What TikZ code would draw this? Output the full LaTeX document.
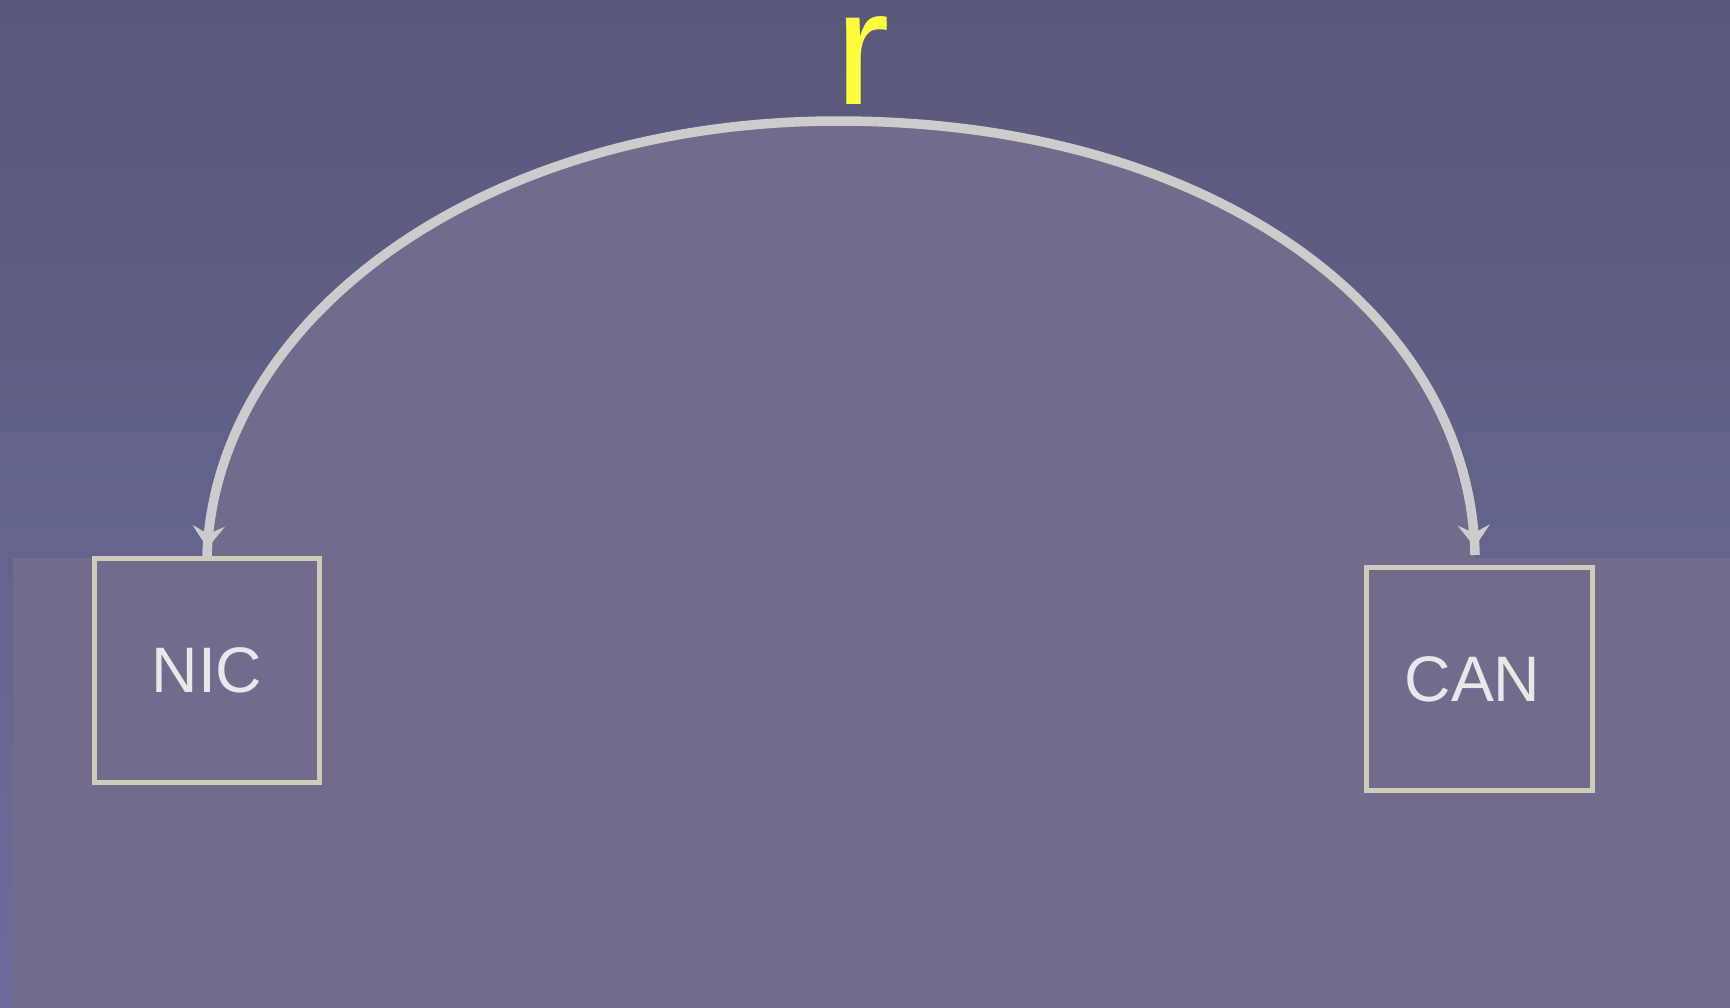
\documentclass[tikz,border=0pt]{standalone}
\usepackage{fontspec}
\setmainfont{Liberation Sans}
\usetikzlibrary{arrows.meta,decorations.markings,calc}
\definecolor{skytop}{RGB}{88,88,122}
\definecolor{skybot}{RGB}{108,109,156}
\definecolor{hall}{RGB}{115,107,139}
\definecolor{boxline}{RGB}{205,203,185}
\definecolor{arcline}{RGB}{204,204,204}
\definecolor{boxtext}{RGB}{232,232,232}
\definecolor{rtext}{RGB}{255,255,64}
\begin{document}
\begin{tikzpicture}[
    >={Stealth[length=0.22cm,width=0.32cm,inset=0.08cm]},
    unitbox/.style={draw=boxline,line width=0.05cm,inner sep=0pt,
      minimum width=2.25cm,minimum height=2.24cm,text=boxtext,
      font=\fontsize{18.3}{22}\selectfont},
    link/.style={draw=arcline,line width=0.095cm,postaction={decorate},
      decoration={markings,
        mark=at position 0.08cm with {\arrowreversed[arcline]{>}},
        mark=at position -0.08cm with {\arrow[arcline]{>}}}}]
  \useasboundingbox (0,0) rectangle (17.30,-10.07);
  \shade[top color=skytop,bottom color=skybot] (0,0) rectangle (17.30,-10.07);
  % floor and the room under the arc
  \fill[hall] (0.13,-10.07) -- (0.13,-5.58) -- (2.07,-5.58)
    .. controls (2.15,-3.20) and (4.80,-1.21) .. (8.38,-1.21)
    .. controls (12.15,-1.21) and (14.70,-3.15) .. (14.75,-5.58)
    -- (17.30,-5.58) -- (17.30,-10.07) -- cycle;
  \node[unitbox] (nic) at (2.07,-6.705) {NIC};
  \node[unitbox,minimum width=2.26cm,minimum height=2.23cm] (can) at (14.795,-6.79) {CAN\hspace*{0.14cm}};
  \coordinate (peak) at (8.38,-1.21);
  \draw[link] (nic.north) .. controls (2.15,-3.20) and (4.80,-1.21) .. (peak)
    .. controls (12.15,-1.21) and (14.70,-3.15) .. ($(can.north)+(-0.045,0.1)$);
  \node[text=rtext,inner sep=0pt,anchor=base,font=\fontsize{46.5}{56}\selectfont]
    (r) at (8.63,-1.04) {r};
\end{tikzpicture}
\end{document}
